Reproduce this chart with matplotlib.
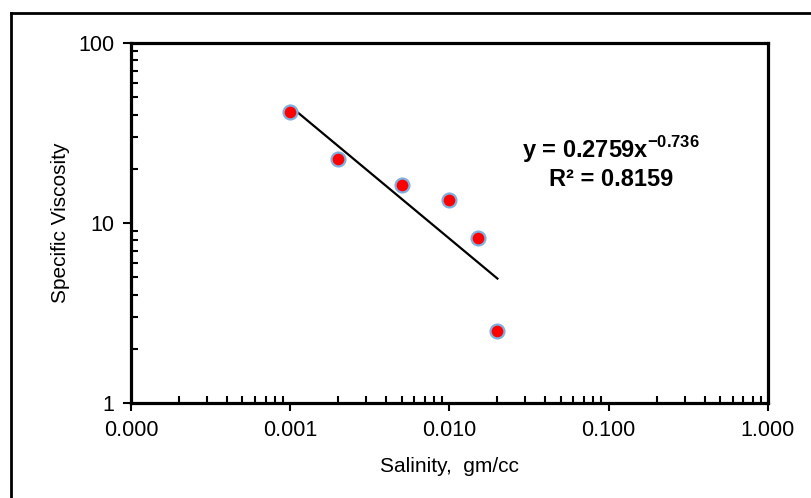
import numpy as np
import matplotlib.pyplot as plt
from matplotlib.lines import Line2D
from matplotlib.ticker import LogLocator, FuncFormatter, NullFormatter

# data
salinity = [0.001, 0.002, 0.005, 0.010, 0.015, 0.020]
viscosity = [41.1, 22.6, 16.2, 13.4, 8.2, 2.5]

# power trendline shown on the chart
fit_a = 0.2759
fit_b = -0.736
fit_r2 = 0.8159

x_ticks = [0.0001, 0.001, 0.01, 0.1, 1.0]
y_ticks = [1, 10, 100]

plt.rcParams['font.family'] = ['Liberation Sans', 'DejaVu Sans']
plt.rcParams['mathtext.fontset'] = 'custom'
plt.rcParams['mathtext.rm'] = 'Liberation Sans'
plt.rcParams['mathtext.bf'] = 'Liberation Sans:bold'

fig = plt.figure(figsize=(8.12, 4.98), dpi=100)
ax = fig.add_axes([0.1613, 0.1908, 0.7845, 0.7229])

# outer chart border (left and top visible)
fig.add_artist(Line2D([11/812, 11/812], [0, 1 - 13/498], transform=fig.transFigure, color='black', lw=2))
fig.add_artist(Line2D([11/812, 1], [1 - 13/498, 1 - 13/498], transform=fig.transFigure, color='black', lw=2))

xs = np.array([min(salinity), max(salinity)])
ax.plot(xs, fit_a * xs ** fit_b, color='black', lw=1.6, zorder=2)

ax.plot(salinity, viscosity, 'o', color='red', markersize=10,
        markeredgecolor='#7fb0e0', markeredgewidth=1.6, zorder=3)

ax.set_xscale('log')
ax.set_yscale('log')
ax.set_xlim(0.0001, 1.0)
ax.set_ylim(1, 100)

ax.set_xticks(x_ticks)
ax.set_yticks(y_ticks)
ax.xaxis.set_major_formatter(FuncFormatter(lambda v, p: '%.3f' % v))
ax.yaxis.set_major_formatter(FuncFormatter(lambda v, p: '%d' % v))
ax.xaxis.set_minor_locator(LogLocator(base=10, subs=np.arange(2, 10)))
ax.yaxis.set_minor_locator(LogLocator(base=10, subs=np.arange(2, 10)))
ax.xaxis.set_minor_formatter(NullFormatter())
ax.yaxis.set_minor_formatter(NullFormatter())

ax.tick_params(which='major', direction='out', length=6, width=1.5, labelsize=15.5, pad=6)
ax.tick_params(which='minor', direction='in', length=5, width=1.5)

for s in ax.spines.values():
    s.set_linewidth(2.3)

ax.set_xlabel('Salinity,  gm/cc', fontsize=15, labelpad=12)
ax.set_ylabel('Specific Viscosity', fontsize=15, labelpad=6)

ax.text(0.754, 0.703, 'y = %.4fx$^{\\mathbf{%.3f}}$' % (fit_a, fit_b), transform=ax.transAxes,
        ha='center', va='center', fontsize=17, fontweight='bold')
ax.text(0.754, 0.622, 'R² = %.4f' % fit_r2, transform=ax.transAxes,
        ha='center', va='center', fontsize=17, fontweight='bold')

fig.savefig('out.png', dpi=100)
